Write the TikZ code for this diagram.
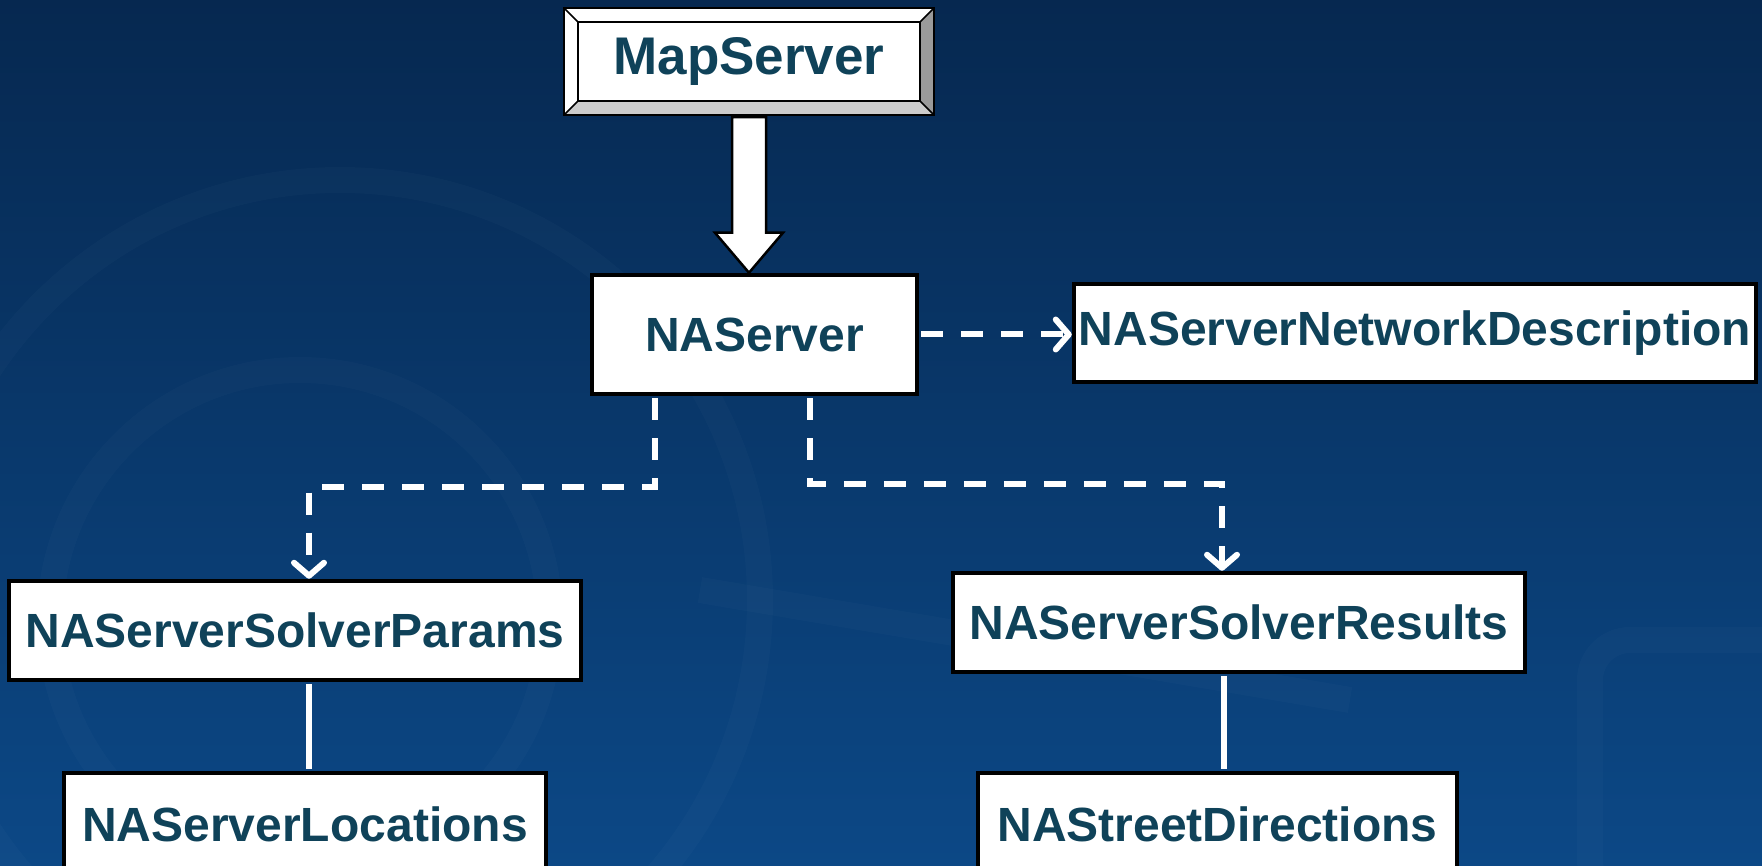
\documentclass[tikz,border=0pt]{standalone}
\usepackage{fontspec}
\setmainfont{Liberation Sans}
\usetikzlibrary{arrows.meta,calc}
\definecolor{bgtop}{HTML}{062850}
\definecolor{bgbot}{HTML}{0C4886}
\definecolor{labelc}{HTML}{0F4259}
\definecolor{bevelR}{HTML}{9A9A9A}
\definecolor{bevelB}{HTML}{CCCCCC}
\begin{document}
\begin{tikzpicture}[x=1pt,y=-1pt,
  box/.style={draw=black,line width=4.5pt,fill=white,inner sep=0pt,
    font=\fontsize{48}{48}\selectfont\bfseries,text=labelc},
  bevelbox/.style={draw=black,line width=2.5pt,fill=white,inner sep=0pt,
    font=\fontsize{53}{53}\selectfont\bfseries,text=labelc,
    path picture={
      \coordinate (bNW) at (path picture bounding box.north west);
      \coordinate (bSE) at (path picture bounding box.south east);
      \coordinate (bNE) at (bSE |- bNW);
      \coordinate (bSW) at (bNW |- bSE);
      \coordinate (iNW) at ($(bNW)+(14,14)$);
      \coordinate (iNE) at ($(bNE)+(-14,14)$);
      \coordinate (iSE) at ($(bSE)+(-14,-14)$);
      \coordinate (iSW) at ($(bSW)+(14,-14)$);
      \fill[bevelR] (bNE) -- (bSE) -- (iSE) -- (iNE) -- cycle;
      \fill[bevelB] (bSW) -- (bSE) -- (iSE) -- (iSW) -- cycle;
      \draw[line width=2.5pt] (iNW) rectangle (iSE);
      \draw[line width=1.5pt] (bNW) -- (iNW) (bNE) -- (iNE) (bSE) -- (iSE) (bSW) -- (iSW);
    }},
  dashlink/.style={draw=white,line width=6pt,dash pattern=on 22pt off 18pt},
  solidlink/.style={draw=white,line width=5.5pt},
  tip/.style={-{Straight Barb[length=13pt,width=30pt,line cap=round,line join=round]}},
  bigarrow/.style={draw=black,line width=2.5pt,fill=white,line join=miter}]

% backdrop
\useasboundingbox (0,0) rectangle (1762,866);
\shade[top color=bgtop,bottom color=bgbot] (0,0) rectangle (1762,866);
\begin{scope}[white,opacity=0.02,line width=26pt]
  \draw (340,600) circle (420);
  \draw (300,620) circle (250);
  \draw[rounded corners=40pt] (1590,640) rectangle (1850,900);
  \draw (700,590) -- (1350,700);
\end{scope}

% nodes
\node[bevelbox,minimum width=370pt,minimum height=107pt] (ms) at (749,61.5) {MapServer};
\node[box,minimum width=325pt,minimum height=119pt] (nas) at (754.5,334.5) {NAServer};
\node[box,minimum width=682pt,minimum height=98pt] (nd) at (1415,333) {NAServerNetworkDescription};
\node[box,minimum width=572pt,minimum height=99pt] (sp) at (295,630.5) {NAServerSolverParams};
\node[box,minimum width=572pt,minimum height=99pt] (sr) at (1239,622.5) {NAServerSolverResults};
\node[box,minimum width=482pt,minimum height=102pt] (loc) at (305,824) {NAServerLocations};
\node[box,minimum width=479pt,minimum height=102pt] (sd) at (1217.5,824) {NAStreetDirections};

% inheritance arrow
\draw[bigarrow] ($(ms.south)+(-17,1)$) -- ($(ms.south |- nas.north)+(-17,-40)$)
  -- ($(ms.south |- nas.north)+(-34,-40)$) -- (ms.south |- nas.north)
  -- ($(ms.south |- nas.north)+(34,-40)$) -- ($(ms.south |- nas.north)+(17,-40)$)
  -- ($(ms.south)+(17,1)$) -- cycle;

% dependency links
\coordinate (lsrc) at ($(nas.south west)+(65,2)$);
\coordinate (rsrc) at ($(nas.south west)+(220,2)$);
\coordinate (lcol) at (309,0);
\coordinate (rcol) at (1222,0);
\draw[dashlink,tip] ($(nas.east)+(2,0)$) -- (nas.east -| nd.west);
\draw[dashlink,tip] (lsrc) -- (lsrc |- 0,487) -- (lcol |- 0,487) -- (lcol |- sp.north);
\draw[dashlink,tip] (rsrc) -- (rsrc |- 0,484) -- (rcol |- 0,484) -- (rcol |- sr.north);

% composition links
\draw[solidlink] ($(lcol |- sp.south)+(0,2)$) -- ($(lcol |- loc.north)+(0,-2)$);
\draw[solidlink] ($(1224,0 |- sr.south)+(0,2)$) -- ($(1224,0 |- sd.north)+(0,-2)$);
\end{tikzpicture}
\end{document}
